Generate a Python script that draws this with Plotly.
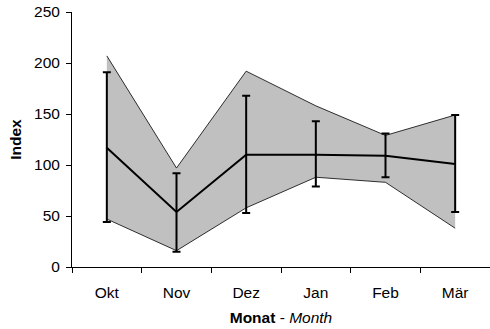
import plotly.graph_objects as go

# Monthly index: mean with error range and shaded min/max band
months = ["Okt", "Nov", "Dez", "Jan", "Feb", "Mär"]
band_upper = [207, 97, 192, 158, 129, 149]
band_lower = [47, 16, 58, 88, 83, 38]
mean_index = [117, 54, 110, 110, 109, 101]
err_upper = [191, 92, 168, 143, 131, 149]
err_lower = [44, 15, 53, 79, 88, 54]

err_plus = [u - m for u, m in zip(err_upper, mean_index)]
err_minus = [m - l for m, l in zip(mean_index, err_lower)]

FONT = "Liberation Sans, Arial, sans-serif"
FS = 15.5

fig = go.Figure()
fig.add_trace(go.Scatter(
    x=months, y=band_upper, mode="lines",
    line=dict(color="black", width=0.8), showlegend=False, hoverinfo="skip",
))
fig.add_trace(go.Scatter(
    x=months, y=band_lower, mode="lines", fill="tonexty",
    fillcolor="#C0C0C0", line=dict(color="black", width=0.8),
    showlegend=False, hoverinfo="skip",
))
fig.add_trace(go.Scatter(
    x=months, y=mean_index, mode="lines",
    line=dict(color="black", width=2),
    error_y=dict(type="data", symmetric=False, array=err_plus,
                 arrayminus=err_minus, color="black", thickness=2, width=4),
    showlegend=False,
))

fig.update_layout(
    width=490, height=329,
    margin=dict(l=72, r=0, t=12, b=62),
    paper_bgcolor="white", plot_bgcolor="white",
    font=dict(family=FONT, size=FS, color="black"),
    xaxis=dict(
        type="category", range=[-0.5, 5.5], tickson="boundaries",
        ticks="outside", ticklen=5, tickcolor="black",
        ticklabelstandoff=11,
        showline=True, linecolor="black", linewidth=1,
        showgrid=False, zeroline=False,
        title=dict(text="<b>Monat</b> - <i>Month</i>", standoff=12,
                   font=dict(size=FS)),
    ),
    yaxis=dict(
        range=[0, 250], dtick=50, ticks="outside", ticklen=5,
        tickcolor="black", ticklabelstandoff=3,
        showline=True, linecolor="black", linewidth=1,
        showgrid=False, zeroline=False,
        title=dict(text="<b>Index</b>", standoff=8, font=dict(size=FS)),
    ),
)

fig.write_html("out.html")
